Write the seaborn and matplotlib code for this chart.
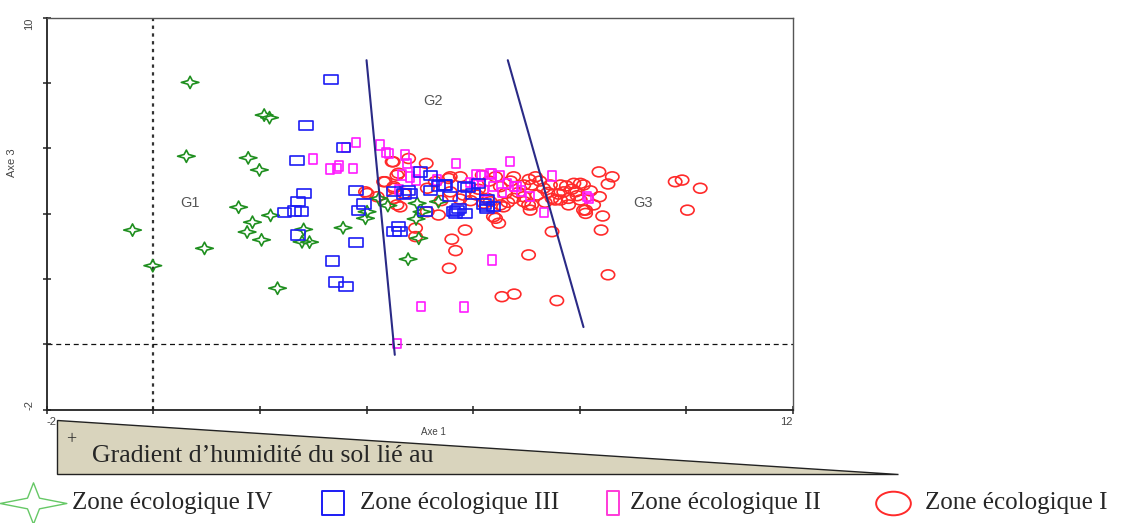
"""Ecological zones on axes 1 and 3, with group separators."""

import matplotlib

matplotlib.use("Agg")
import matplotlib.pyplot as plt
import numpy as np
import seaborn as sns
from matplotlib.patches import Polygon
from matplotlib.path import Path
from matplotlib.transforms import Affine2D

# --- data ----------------------------------------------------------------
zone4_x = [0.69, 2.08, 2.18, 0.62, 1.78, 1.99, 1.60, -0.39, 2.20, 1.86, 1.76, 2.03, 0.96, -0.01,
           2.33, 2.82, 2.79, 2.93, 3.56, 3.98, 4.93, 4.98, 4.78, 4.95, 5.35, 4.23, 4.01, 5.04, 4.40]
zone4_y = [8.02, 7.02, 6.94, 5.76, 5.71, 5.34, 4.20, 3.50, 3.95, 3.74, 3.44, 3.20, 2.94, 2.41,
           1.72, 3.52, 3.14, 3.13, 3.57, 3.86, 3.84, 3.25, 2.61, 4.32, 4.37, 4.47, 4.06, 4.06, 4.25]

zone3_x = [3.33, 2.86, 3.57, 2.70, 2.83, 3.80, 2.71, 2.46, 2.65, 2.78, 2.71, 3.36, 3.43, 3.61,
           3.80, 3.85, 3.95, 4.60, 4.51, 5.10, 5.63, 5.85, 6.26, 5.73, 5.01, 5.20, 5.48, 5.57,
           4.79, 4.82, 4.51, 5.20, 5.85, 6.10, 5.70, 6.26, 6.38, 6.26, 5.45, 5.67, 4.63, 5.90,
           6.00, 6.20, 5.35, 4.70]
zone3_y = [8.10, 6.71, 6.02, 5.64, 4.62, 4.70, 4.37, 4.03, 4.08, 4.06, 3.35, 2.55, 1.91, 1.77,
           3.13, 4.11, 4.30, 3.60, 3.45, 4.06, 4.06, 4.01, 4.16, 4.16, 5.28, 5.18, 4.88, 4.52,
           4.72, 4.62, 4.67, 4.72, 4.83, 4.93, 4.11, 4.21, 4.21, 4.42, 4.88, 4.01, 3.45, 4.80,
           4.60, 4.30, 4.85, 4.60]

zone2_x = [3.81, 3.61, 2.99, 3.48, 3.45, 3.31, 3.74, 4.26, 4.37, 4.43, 4.73, 4.76, 5.67, 6.70,
           7.48, 7.32, 6.14, 6.32, 6.51, 6.01, 6.38, 6.64, 6.76, 4.92, 5.32, 8.14, 4.82, 8.17,
           7.07, 6.82, 6.35, 5.02, 5.83, 4.57, 4.92, 6.35, 6.06, 4.67, 6.20, 6.55, 5.95, 6.90,
           4.60]
zone2_y = [6.18, 6.03, 5.68, 5.46, 5.39, 5.37, 5.39, 6.10, 5.88, 5.85, 5.80, 5.54, 5.54, 5.59,
           5.15, 4.03, 5.15, 5.21, 5.15, 4.93, 4.83, 4.93, 4.83, 5.28, 5.03, 4.52, 5.13, 4.47,
           4.52, 4.83, 2.58, 1.16, 1.14, 0.02, 5.03, 5.24, 5.18, 5.18, 4.70, 4.65, 4.95, 4.70,
           4.75]

zone1_x = [8.36, 8.61, 8.53, 9.79, 9.92, 10.26, 10.02, 8.37, 8.43, 8.40, 8.53, 7.57, 8.26, 8.11,
           4.63, 5.14, 5.35, 4.92, 5.85, 6.42, 6.48, 5.60, 5.67, 5.55, 7.04, 6.54, 6.77, 7.48,
           7.79, 7.10, 6.57, 6.20, 6.95, 4.79, 4.50, 5.12, 4.60, 4.32, 4.51, 3.98, 4.51, 5.57,
           5.76, 5.82, 6.07, 6.26, 6.32, 6.17, 5.57, 4.70, 7.17, 6.76, 6.42, 7.89, 8.01, 7.64,
           7.45, 6.95, 7.10, 6.51, 7.32, 7.70, 7.92, 7.48, 6.76, 6.60, 6.95, 7.20, 7.79, 8.01,
           7.04, 7.54, 8.07, 8.11, 6.38, 7.07, 4.01, 4.20, 4.57, 4.35, 4.48, 4.57, 4.51, 4.92,
           6.51, 5.29, 5.54, 5.14, 7.64, 8.07, 7.85, 7.95, 7.75, 7.60, 6.85, 7.35, 6.65, 6.10,
           5.95, 7.25, 6.70, 7.05, 8.20, 7.40, 6.30, 5.75, 5.40]
zone1_y = [5.28, 5.13, 4.91, 4.98, 5.03, 4.78, 4.11, 4.52, 3.93, 3.50, 2.13, 1.34, 4.27, 4.11,
           4.21, 4.06, 3.96, 3.30, 3.50, 3.86, 3.71, 3.22, 2.87, 2.33, 2.74, 1.46, 1.54, 3.45,
           4.27, 4.27, 4.21, 4.32, 4.37, 5.69, 5.59, 5.54, 5.24, 4.98, 4.78, 4.67, 4.47, 5.13,
           5.13, 4.57, 4.57, 4.47, 4.37, 5.18, 4.67, 4.62, 5.13, 5.13, 5.13, 4.93, 4.93, 4.88,
           4.88, 4.88, 4.88, 4.83, 4.78, 4.67, 4.67, 4.47, 4.47, 4.62, 4.52, 4.57, 4.47, 4.42,
           4.27, 4.42, 4.11, 4.01, 3.91, 4.11, 4.62, 4.52, 4.27, 4.98, 5.59, 5.18, 4.83, 3.56,
           4.27, 4.98, 5.08, 4.78, 4.42, 4.88, 4.75, 4.55, 4.85, 4.60, 4.65, 4.35, 4.35, 4.75,
           4.40, 5.00, 5.00, 5.05, 4.70, 4.65, 5.00, 4.45, 4.40]

sep1_x = [4.00, 4.53]
sep1_y = [8.70, -0.32]
sep2_x = [6.65, 8.07]
sep2_y = [8.70, 0.53]

group_labels = ["G1", "G2", "G3"]
group_x = [0.69, 5.25, 9.18]
group_y = [4.33, 7.45, 4.33]

zone_labels = ["Zone écologique IV", "Zone écologique III", "Zone écologique II", "Zone écologique I"]

# --- marker shapes ---------------------------------------------------------


def closed_path(verts):
    verts = list(verts) + [verts[0]]
    return Path(np.array(verts, dtype=float), closed=True)


STAR = closed_path([(1, 0), (0.26, 0.2), (0, 0.7), (-0.26, 0.2),
                    (-1, 0), (-0.26, -0.2), (0, -0.7), (0.26, -0.2)])
LEG_STAR = closed_path([(1, 0), (0.18, 0.16), (0, 0.62), (-0.18, 0.16),
                        (-1, 0), (-0.18, -0.16), (0, -0.62), (0.18, -0.16)])
WIDE_BOX = closed_path([(-1, -0.68), (1, -0.68), (1, 0.68), (-1, 0.68)])
TALL_BOX = closed_path([(-0.85, -1), (0.85, -1), (0.85, 1), (-0.85, 1)])
SQUARE = closed_path([(-0.9, -1), (0.9, -1), (0.9, 1), (-0.9, 1)])
NARROW_BOX = closed_path([(-0.55, -1), (0.55, -1), (0.55, 1), (-0.55, 1)])
ELLIPSE = Affine2D().scale(1, 0.74).transform_path(Path.unit_circle())
LEG_ELLIPSE = Affine2D().scale(1, 0.68).transform_path(Path.unit_circle())

COL_IV = "#1f8f1f"
COL_III = "#1c1cf5"
COL_II = "#ff1aff"
COL_I = "#ff2a2a"
COL_SEP = "#2a2a86"

sns.set_theme(style="ticks")
plt.rcParams.update({
    "font.family": ["Liberation Sans", "DejaVu Sans"],
    "axes.edgecolor": "#222222",
    "axes.linewidth": 1.3,
})

fig = plt.figure(figsize=(11.28, 5.23), dpi=100)

# overlay used for the gradient wedge and the bottom legend (pixel layout)
ov = fig.add_axes([0, 0, 1, 1], zorder=0)
ov.set_xlim(0, 1128)
ov.set_ylim(523, 0)
ov.set_axis_off()

ax = fig.add_axes([0.0414, 0.2166, 0.6616, 0.7495], zorder=1)
ax.set_facecolor("white")

zones = [
    (zone1_x, zone1_y, ELLIPSE, 92, COL_I),
    (zone2_x, zone2_y, TALL_BOX, 46, COL_II),
    (zone4_x, zone4_y, STAR, 160, COL_IV),
    (zone3_x, zone3_y, WIDE_BOX, 96, COL_III),
]
for xs, ys, mk, size, col in zones:
    sns.scatterplot(x=xs, y=ys, ax=ax, marker=mk, s=size, color=col,
                    facecolor="none", edgecolor=col, linewidth=1.2, legend=False)

ax.axvline(0, color="#333333", linestyle=(0, (1.5, 2.0)), linewidth=1.6, zorder=0)
ax.axhline(0, color="#111111", linestyle=(0, (4, 3)), linewidth=0.9, zorder=0)
ax.plot(sep1_x, sep1_y, color=COL_SEP, linewidth=1.5)
ax.plot(sep2_x, sep2_y, color=COL_SEP, linewidth=1.5)

for lab, gx, gy in zip(group_labels, group_x, group_y):
    ax.text(gx, gy, lab, color="#555555", fontsize=10.5, ha="center", va="center")

ax.set_xlim(-2, 12)
ax.set_ylim(-2, 10)
ax.set_xticks(np.arange(-2, 13, 2))
ax.set_yticks(np.arange(-2, 11, 2))
ax.set_xticklabels(["-2"] + [""] * 6 + ["12"])
ax.set_yticklabels(["-2"] + [""] * 5 + ["10"])
ax.tick_params(direction="inout", length=6, width=1.1, colors="#222222",
               labelsize=8, labelcolor="#444444", pad=2)
ax.tick_params(axis="y", pad=6)
xl = ax.get_xticklabels()
xl[0].set_ha("left")
xl[-1].set_ha("right")
for t in ax.get_yticklabels():
    t.set_rotation(90)
yl = ax.get_yticklabels()
yl[0].set_va("bottom")
yl[-1].set_va("top")
for side in ["top", "right"]:
    ax.spines[side].set_color("#555555")
    ax.spines[side].set_linewidth(1.0)

ax.set_xlabel("Axe 1", fontsize=7, color="#444444")
ax.xaxis.set_label_coords(0.518, -0.045)
ax.set_ylabel("Axe 3", fontsize=8, color="#444444")
ax.yaxis.set_label_coords(-0.04, 0.63)

# gradient wedge below the plot
ov.add_patch(Polygon([(57, 420), (57, 474), (898, 474)], closed=True,
                     facecolor="#d9d4bd", edgecolor="#222222", linewidth=1.0))
serif = ["Liberation Serif", "DejaVu Serif"]
ov.text(66, 440, "+", fontsize=13, family=serif, ha="left", va="center")
ov.text(92, 456, "Gradient d\u2019humidité du sol lié au", fontsize=18.5,
        family=serif, ha="left", va="center")

# legend row
leg_items = [
    (33, 72, LEG_STAR, 48, "#66c866", 1.0),
    (333, 360, SQUARE, 17, COL_III, 1.4),
    (613, 630, NARROW_BOX, 17, "#ff3ad8", 1.4),
    (893, 925, LEG_ELLIPSE, 25, COL_I, 1.4),
]
for (mx, tx, mk, ms, col, lw), lab in zip(leg_items, zone_labels):
    ov.plot([mx], [503], marker=mk, markersize=ms, markerfacecolor="none",
            markeredgecolor=col, markeredgewidth=lw, linestyle="none")
    ov.text(tx, 503, lab, fontsize=18, family=serif, ha="left", va="center")

fig.savefig("out.png", dpi=100)
plt.close(fig)
